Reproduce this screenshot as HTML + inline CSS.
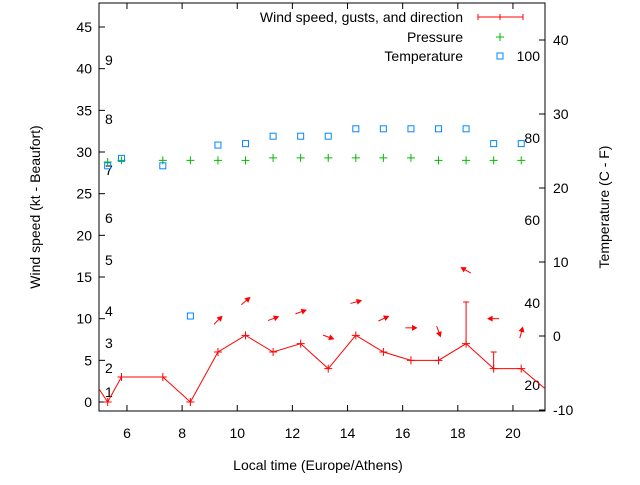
<!DOCTYPE html>
<html><head><meta charset="utf-8"><style>
body{margin:0;background:#fff;}
svg text{font-family:"Liberation Sans",sans-serif;font-size:14px;fill:#000;}
</style></head><body>
<svg id="chart" width="640" height="480" viewBox="0 0 640 480">
<g id="grid"></g>
<g id="marks"></g>
</svg>
<script>
const times=[5.3,5.8,7.3,8.3,9.3,10.3,11.3,12.3,13.3,14.3,15.3,16.3,17.3,18.3,19.3,20.3];
const wind=[0,3,3,0,6,8,6,7,4,8,6,5,5,7,4,4];
const gusts=[null,null,null,null,null,null,null,null,null,null,null,null,null,12,6,null];
const pressure=[28.8,29,29,29,29,29,29.3,29.3,29.3,29.3,29.3,29.3,29,29,29,29];
const temperature=[23,24,23,2.7,25.8,26,27,27,27,28,28,28,28,28,26,26];
const arrowTimes=[9.3,10.3,11.3,12.3,13.3,14.3,15.3,16.3,17.3,18.3,19.3,20.3];
const arrowLevel=[9.8,12.1,10,10.8,7.8,12,10,8.9,8.5,15.8,10,8.3];
const arrowDir=[45,40,20,20,-20,15,25,0,-70,150,180,75];
const xTicks=[6,8,10,12,14,16,18,20];
const yTicks=[0,5,10,15,20,25,30,35,40,45];
const y2Ticks=[-10,0,10,20,30,40];
const beaufort=[[1,392],[2,368],[3,343],[4,311],[5,260],[6,218],[7,170],[8,119],[9,60]];
const fahr=[[20,385],[40,303],[60,220],[80,138],[100,56]];
const L=99,R=545,T=3,B=411;
const X=t=>99.4+(t-5)*27.57;
const Y=v=>402-v*8.333;
const Y2=v=>336-v*7.4;
const NS='http://www.w3.org/2000/svg';
const svg=document.getElementById('chart'),G=document.getElementById('grid'),M=document.getElementById('marks');
function el(tag,a,p){const e=document.createElementNS(NS,tag);for(const k in a)e.setAttribute(k,a[k]);(p||M).appendChild(e);return e;}
function txt(s,x,y,anchor,p){const e=el('text',{x:x,y:y,'text-anchor':anchor||'middle'},p);e.textContent=s;return e;}
let f=el('rect',{x:L,y:T,width:R-L,height:B-T,fill:'none',stroke:'#000'},G);

xTicks.forEach(t=>{const x=X(t);el('line',{x1:x,y1:B,x2:x,y2:B-6,stroke:'#000'},G);el('line',{x1:x,y1:T,x2:x,y2:T+6,stroke:'#000'},G);
 const e=txt(String(t),x,438);});
yTicks.forEach(v=>{const y=Y(v);el('line',{x1:L,y1:y,x2:L+6,y2:y,stroke:'#000'},G);
 const e=txt(String(v),92,y+5,'end');});
y2Ticks.forEach(v=>{const y=Y2(v);el('line',{x1:R,y1:y,x2:R-6,y2:y,stroke:'#000'},G);
 const e=txt(String(v),553,y+5,'start');});
beaufort.forEach(b=>{const e=txt(String(b[0]),105,b[1]+5,'start');});
fahr.forEach(b=>{const e=txt(String(b[0]),540,b[1]+5,'end');});
let t1=txt('Local time (Europe/Athens)',318,470);
let t2=txt('Wind speed (kt - Beaufort)',0,0);t2.setAttribute('transform','translate(40,207) rotate(-90)');
let t3=txt('Temperature (C - F)',0,0);t3.setAttribute('transform','translate(609,207) rotate(-90)');
const cp=el('clipPath',{id:'cp'});el('rect',{x:L,y:T,width:R-L,height:B-T},cp);
const cg=el('g',{'clip-path':'url(#cp)'});
let pts=[[X(5),Y(1.5)]].concat(times.map((t,i)=>[X(t),Y(wind[i])])).concat([[X(21.2),Y(1.5)]]);
let wl=el('polyline',{points:pts.map(p=>p.join(',')).join(' '),fill:'none',stroke:'#f00','stroke-width':1},cg);

function plus(x,y,c,s){el('path',{d:`M${x-s},${y}h${2*s}M${x},${y-s}v${2*s}`,stroke:c,'stroke-width':1},cg);}
times.forEach((t,i)=>{plus(X(t),Y(wind[i]),'#f00',4);
 if(gusts[i]!=null){const g=el('path',{d:`M${X(t)},${Y(wind[i])}V${Y(gusts[i])}M${X(t)-3},${Y(gusts[i])}h6`,stroke:'#f00'},cg);
  }
 plus(X(t),Y(pressure[i]),'#0b0',4);
 const s=el('rect',{x:X(t)-3,y:Y2(temperature[i])-3,width:6,height:6,fill:'none',stroke:'#08f'},cg);
 });
arrowTimes.forEach((t,i)=>{const cx=X(t),cy=Y(arrowLevel[i]),a=arrowDir[i]*Math.PI/180;
 const dx=Math.cos(a)*5.5,dy=-Math.sin(a)*5.5;const hx=cx+dx,hy=cy+dy;
 const g=el('g',{},cg);
 el('line',{x1:cx-dx,y1:cy-dy,x2:hx,y2:hy,stroke:'#f00'},g);
 const b1=a+Math.PI-0.5,b2=a+Math.PI+0.5;
 el('polygon',{points:`${hx},${hy} ${hx+Math.cos(b1)*4.5},${hy-Math.sin(b1)*4.5} ${hx+Math.cos(b2)*4.5},${hy-Math.sin(b2)*4.5}`,fill:'#f00',stroke:'#f00'},g);});
[['Wind speed, gusts, and direction',17],['Pressure',37],['Temperature',56]].forEach((l,i)=>{const e=txt(l[0],463,l[1]+5,'end');});
el('path',{d:'M478,17h45M478,14v6M523,14v6M500,14v6',stroke:'#f00'});
el('path',{d:'M496,37h8M500,33v8',stroke:'#0b0'});
el('rect',{x:497,y:53,width:6,height:6,fill:'none',stroke:'#08f'});
</script>
</body></html>
